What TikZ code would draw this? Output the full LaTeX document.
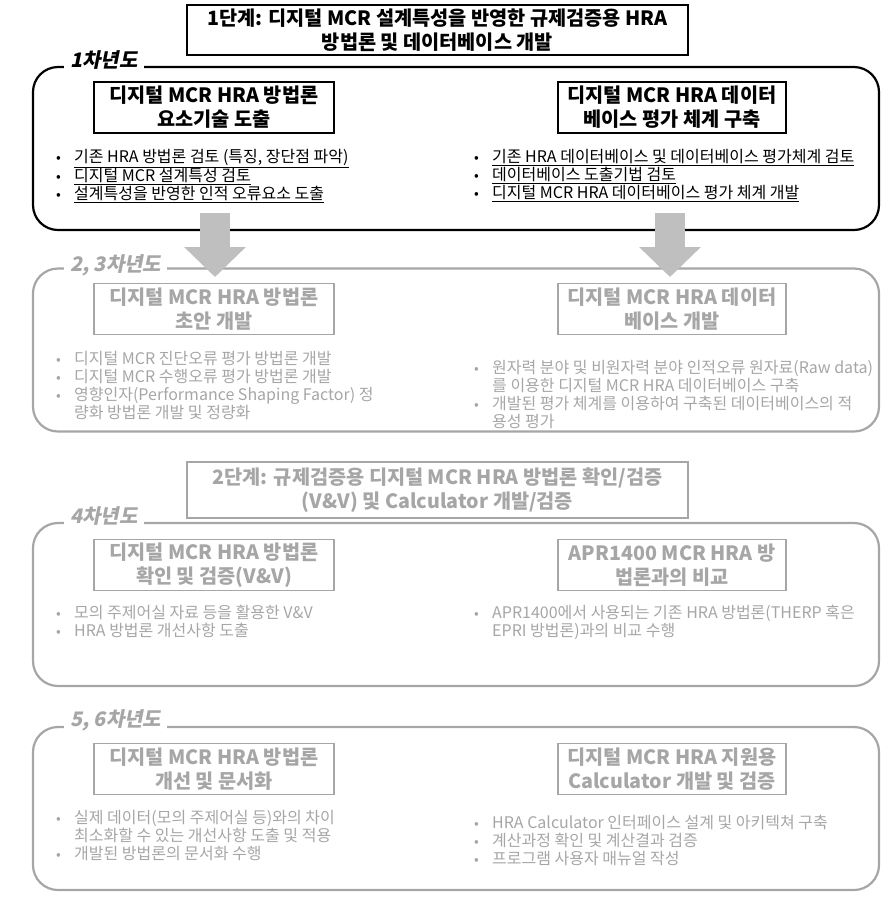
\documentclass[tikz,border=0pt]{standalone}
\usepackage{fontspec}
\setmainfont{Noto Sans CJK KR}
\newfontfamily\yearfont{Noto Sans CJK KR}[FakeSlant=0.2]
\usetikzlibrary{arrows.meta}
\definecolor{fadegray}{RGB}{166,166,166}
\definecolor{arrowgray}{RGB}{191,191,191}
\newcommand{\bul}{\makebox[19pt][l]{\hspace{1pt}\fontsize{14}{18}\selectfont •}}
\newcommand{\ind}{\makebox[19pt]{}}
\tikzset{
    stagebox/.style={draw, line width=2pt, align=center, minimum width=501pt,
    	inner sep=0pt, font=\bfseries\fontsize{19.7}{24}\selectfont},
    yearframe/.style={draw, line width=2.2pt, rounded corners=25pt,
    	minimum width=846pt, minimum height=163pt, inner sep=0pt},
    yearlabel/.style={fill=white, anchor=west, inner xsep=6pt, minimum height=18pt,
    	font=\yearfont\bfseries\fontsize{20}{22}\selectfont},
    taskbox/.style={draw, line width=1.4pt, align=center, minimum height=51pt,
    	inner sep=0pt, font=\bfseries\fontsize{19.7}{24}\selectfont},
    items/.style={anchor=west, align=left, inner sep=0pt,
    	font=\fontsize{16}{18}\selectfont},
    faded/.style={draw=fadegray, text=fadegray},
    nextyear/.style={draw=arrowgray, line width=30pt,
    	-{Triangle[width=60pt, length=30pt]}}
}

\begin{document}
\begin{tikzpicture}[x=1pt, y=-1pt]
  \useasboundingbox (0,0) rectangle (894,911);

  % stage 1
  \node (s1) [stagebox, minimum height=50pt] at (437.5, 30)
  	{1단계: 디지털 MCR 설계특성을 반영한 규제검증용 HRA\\방법론 및 데이터베이스 개발};

  % year 1
  \node (y1) [yearframe] at (456, 148.5) {};
  \node (y1l) [yearlabel] at (64, 60) {1차년도};
  \node (t1a) [taskbox, minimum width=240pt] at (214, 107.5)
  	{디지털 MCR HRA 방법론\\요소기술 도출};
  \node (t1b) [taskbox, minimum width=228pt] at (672, 107.5)
  	{디지털 MCR HRA 데이터\\베이스 평가 체계 구축};
  \node (i1a) [items] at (55, 176)
  	{\bul\underline{기존 HRA 방법론 검토 (특징, 장단점 파악)}\\
  	 \bul\underline{디지털 MCR 설계특성 검토}\\
  	 \bul\underline{설계특성을 반영한 인적 오류요소 도출}};
  \node (i1b) [items] at (473, 176)
  	{\bul\underline{기존 HRA 데이터베이스 및 데이터베이스 평가체계 검토}\\
  	 \bul\underline{데이터베이스 도출기법 검토}\\
  	 \bul\underline{디지털 MCR HRA 데이터베이스 평가 체계 개발}};

  % years 2, 3
  \node (y2) [yearframe, faded] at (456, 350) {};
  \node (y2l) [yearlabel, text=fadegray] at (64, 265) {2, 3차년도};
  \node (t2a) [taskbox, faded, minimum width=240pt] at (214, 309)
  	{디지털 MCR HRA 방법론\\초안 개발};
  \node (t2b) [taskbox, faded, minimum width=228pt] at (672, 309)
  	{디지털 MCR HRA 데이터\\베이스 개발};
  \node (i2a) [items, text=fadegray] at (55, 386)
  	{\bul 디지털 MCR 진단오류 평가 방법론 개발\\
  	 \bul 디지털 MCR 수행오류 평가 방법론 개발\\
  	 \bul 영향인자(Performance Shaping Factor) 정\\
  	 \ind 량화 방법론 개발 및 정량화};
  \node (i2b) [items, text=fadegray] at (473, 394)
  	{\bul 원자력 분야 및 비원자력 분야 인적오류 원자료(Raw data)\\
  	 \ind 를 이용한 디지털 MCR HRA 데이터베이스 구축\\
  	 \bul 개발된 평가 체계를 이용하여 구축된 데이터베이스의 적\\
  	 \ind 용성 평가};

  % arrows from year 1 to years 2, 3
  \coordinate (a1s) at (215, 213);
  \coordinate (a1e) at (215, 277);
  \coordinate (a2s) at (670, 213);
  \coordinate (a2e) at (670, 277);
  \draw [nextyear] (a1s) -- (a1e);
  \draw [nextyear] (a2s) -- (a2e);

  % stage 2
  \node (s2) [stagebox, faded, minimum height=56pt] at (437.5, 490)
  	{2단계: 규제검증용 디지털 MCR HRA 방법론 확인/검증\\(V\&V) 및 Calculator 개발/검증};

  % year 4
  \node (y4) [yearframe, faded] at (456, 604.5) {};
  \node (y4l) [yearlabel, text=fadegray] at (64, 516) {4차년도};
  \node (t4a) [taskbox, faded, minimum width=240pt] at (214, 565)
  	{디지털 MCR HRA 방법론\\확인 및 검증(V\&V)};
  \node (t4b) [taskbox, faded, minimum width=228pt] at (672, 565)
  	{APR1400 MCR HRA 방\\법론과의 비교};
  \node (i4a) [items, text=fadegray] at (55, 621)
  	{\bul 모의 주제어실 자료 등을 활용한 V\&V\\
  	 \bul HRA 방법론 개선사항 도출};
  \node (i4b) [items, text=fadegray] at (473, 622)
  	{\bul APR1400에서 사용되는 기존 HRA 방법론(THERP 혹은\\
  	 \ind EPRI 방법론)과의 비교 수행};

  % years 5, 6
  \node (y5) [yearframe, faded] at (456, 808.5) {};
  \node (y5l) [yearlabel, text=fadegray] at (64, 720) {5, 6차년도};
  \node (t5a) [taskbox, faded, minimum width=240pt] at (214, 769)
  	{디지털 MCR HRA 방법론\\개선 및 문서화};
  \node (t5b) [taskbox, faded, minimum width=228pt] at (672, 769)
  	{디지털 MCR HRA 지원용\\Calculator 개발 및 검증};
  \node (i5a) [items, text=fadegray] at (55, 836)
  	{\bul 실제 데이터(모의 주제어실 등)와의 차이\\
  	 \ind 최소화할 수 있는 개선사항 도출 및 적용\\
  	 \bul 개발된 방법론의 문서화 수행};
  \node (i5b) [items, text=fadegray] at (473, 840)
  	{\bul HRA Calculator 인터페이스 설계 및 아키텍쳐 구축\\
  	 \bul 계산과정 확인 및 계산결과 검증\\
  	 \bul 프로그램 사용자 매뉴얼 작성};

\end{tikzpicture}
\end{document}
